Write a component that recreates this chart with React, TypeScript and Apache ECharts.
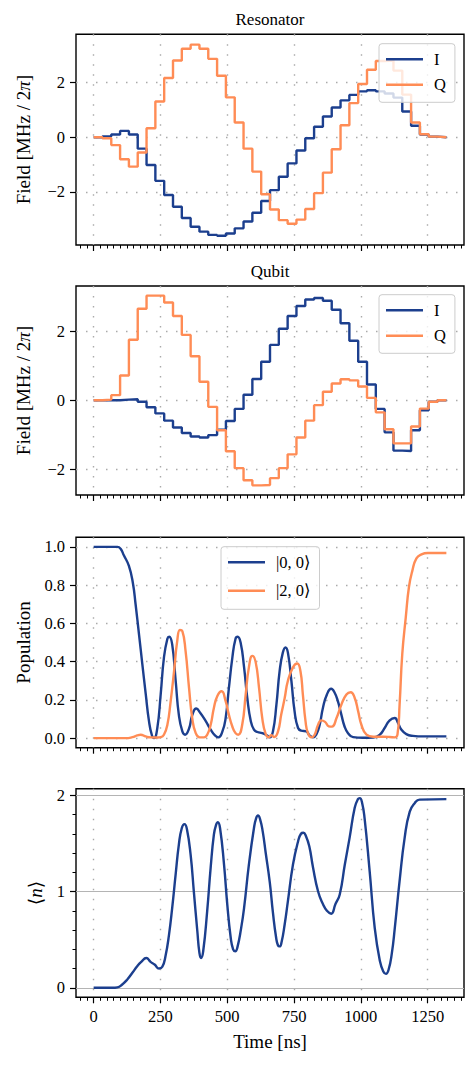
import React, { useEffect, useRef } from "react";
import * as echarts from "echarts";

// ---------- data ----------
const stepTimes = [
  0, 33, 66, 99, 132, 165, 198, 231, 264, 297, 330, 363, 396, 429, 462, 495, 528, 561, 594, 627,
  660, 693, 726, 759, 792, 825, 858, 891, 924, 957, 990, 1023, 1056, 1089, 1122, 1155, 1188, 1221,
  1254, 1287, 1320,
];

const resonatorI = [
  0, 0.03, 0.1, 0.23, 0.1, -0.42, -1.02, -1.6, -2.12, -2.55, -2.96, -3.28, -3.46, -3.58, -3.61,
  -3.53, -3.34, -3.09, -2.77, -2.34, -1.94, -1.45, -0.96, -0.49, -0.04, 0.38, 0.76, 1.09, 1.35,
  1.55, 1.68, 1.72, 1.68, 1.6, 1.45, 0.94, 0.42, 0.1, 0.02, 0,
];
const resonatorQ = [
  0, -0.04, -0.29, -0.81, -1.08, -0.56, 0.33, 1.31, 2.17, 2.81, 3.24, 3.39, 3.24, 2.87, 2.25, 1.46,
  0.54, -0.42, -1.26, -2.09, -2.65, -3.04, -3.17, -3.02, -2.63, -2.05, -1.3, -0.44, 0.44, 1.25,
  1.95, 2.47, 2.79, 2.81, 2.44, 1.56, 0.54, 0.11, 0.02, 0,
];
const qubitI = [
  0, 0, 0, 0.02, 0.03, -0.04, -0.2, -0.38, -0.59, -0.79, -0.95, -1.05, -1.08, -1.01, -0.85, -0.6,
  -0.25, 0.16, 0.62, 1.12, 1.61, 2.08, 2.45, 2.74, 2.93, 2.97, 2.89, 2.63, 2.24, 1.73, 1.12, 0.46,
  -0.25, -0.93, -1.46, -1.47, -0.87, -0.29, -0.04, 0,
];
const qubitQ = [
  0, 0.02, 0.15, 0.72, 1.76, 2.66, 3.04, 3.04, 2.84, 2.45, 1.9, 1.28, 0.54, -0.19, -0.87, -1.48,
  -1.97, -2.32, -2.47, -2.46, -2.26, -1.97, -1.57, -1.08, -0.59, -0.14, 0.25, 0.49, 0.61, 0.58,
  0.4, 0.07, -0.35, -0.84, -1.25, -1.25, -0.76, -0.24, -0.04, 0,
];

const pop00: number[][] = [
  [0, 1], [60, 1], [89, 1.0], [101, 0.99], [113, 0.956], [132, 0.9], [147, 0.81], [157, 0.7],
  [170, 0.54], [182, 0.39], [195, 0.23], [207, 0.09], [218, 0.015], [226, 0.0], [238, 0.05],
  [251, 0.23], [263, 0.42], [276, 0.52], [283, 0.53], [294, 0.49], [307, 0.3], [319, 0.12],
  [332, 0.035], [342, 0.018], [357, 0.05], [369, 0.12], [384, 0.155], [400, 0.13], [419, 0.09],
  [438, 0.044], [454, 0.014], [467, 0.004], [482, 0.035], [494, 0.105], [506, 0.26], [519, 0.42],
  [531, 0.52], [539, 0.53], [550, 0.5], [563, 0.37], [575, 0.21], [588, 0.09], [600, 0.044],
  [613, 0.032], [631, 0.026], [648, 0.015], [659, 0.004], [671, 0.035], [684, 0.175], [696, 0.35],
  [708, 0.447], [718, 0.474], [727, 0.447], [740, 0.3], [752, 0.14], [765, 0.053], [777, 0.039],
  [796, 0.035], [808, 0.014], [821, 0.004], [833, 0.018], [846, 0.07], [858, 0.158], [873, 0.228],
  [889, 0.258], [902, 0.237], [914, 0.193], [927, 0.123], [939, 0.061], [952, 0.026], [971, 0.005],
  [1008, 0.002], [1046, 0.003], [1071, 0.018], [1089, 0.053], [1108, 0.093], [1127, 0.105],
  [1139, 0.079], [1152, 0.044], [1170, 0.021], [1195, 0.012], [1233, 0.009], [1320, 0.009],
];
const pop20: number[][] = [
  [0, 0], [120, 0], [145, 0.005], [163, 0.014], [176, 0.018], [195, 0.009], [213, 0.004],
  [240, 0.003], [251, 0.005], [263, 0.018], [276, 0.07], [288, 0.19], [301, 0.35], [313, 0.51],
  [323, 0.565], [332, 0.56], [344, 0.456], [357, 0.263], [369, 0.105], [382, 0.026], [397, 0.004],
  [413, 0.004], [425, 0.018], [438, 0.07], [450, 0.158], [463, 0.22], [479, 0.245], [494, 0.193],
  [506, 0.123], [519, 0.061], [531, 0.026], [541, 0.018], [556, 0.07], [569, 0.228], [581, 0.37],
  [594, 0.43], [606, 0.4], [619, 0.263], [631, 0.105], [644, 0.021], [656, 0.004], [664, 0.016],
  [676, 0.006], [690, 0.035], [702, 0.123], [715, 0.21], [727, 0.3], [746, 0.37], [762, 0.39],
  [774, 0.35], [783, 0.228], [793, 0.088], [802, 0.026], [815, 0.004], [827, 0.018], [840, 0.07],
  [852, 0.093], [866, 0.085], [880, 0.062], [892, 0.06], [909, 0.105], [927, 0.175], [946, 0.228],
  [962, 0.24], [977, 0.21], [990, 0.14], [1002, 0.07], [1021, 0.018], [1046, 0.007], [1083, 0.007],
  [1108, 0.006], [1127, 0.004], [1137, 0.018], [1145, 0.175], [1155, 0.44], [1168, 0.63],
  [1180, 0.79], [1193, 0.877], [1208, 0.94], [1227, 0.961], [1251, 0.968], [1320, 0.968],
];
const photonN: number[][] = [
  [0, 0], [70, 0], [89, 0.005], [107, 0.035], [126, 0.087], [145, 0.156], [163, 0.225],
  [178, 0.27], [197, 0.31], [213, 0.27], [228, 0.242], [245, 0.2], [257, 0.218], [269, 0.33],
  [282, 0.55], [294, 0.83], [307, 1.18], [319, 1.49], [330, 1.66], [340, 1.7], [349, 1.65],
  [363, 1.38], [375, 1.0], [388, 0.59], [396, 0.36], [402, 0.31], [410, 0.38], [425, 0.8],
  [438, 1.25], [450, 1.59], [458, 1.69], [465, 1.72], [473, 1.66], [488, 1.28], [500, 0.87],
  [513, 0.52], [522, 0.4], [530, 0.38], [538, 0.42], [552, 0.62], [563, 0.83], [581, 1.28],
  [600, 1.66], [608, 1.76], [615, 1.79], [623, 1.75], [633, 1.62], [644, 1.4], [659, 1.1],
  [671, 0.78], [683, 0.52], [690, 0.44], [696, 0.43], [703, 0.47], [715, 0.66], [727, 0.9],
  [746, 1.28], [765, 1.52], [776, 1.6], [785, 1.61], [794, 1.58], [807, 1.47], [821, 1.25],
  [840, 1.0], [858, 0.87], [873, 0.8], [889, 0.77], [905, 0.87], [921, 0.97], [940, 1.28],
  [958, 1.56], [977, 1.87], [989, 1.96], [996, 1.97], [1004, 1.93], [1014, 1.76], [1033, 1.21],
  [1052, 0.62], [1071, 0.28], [1084, 0.17], [1094, 0.145], [1104, 0.19], [1116, 0.36],
  [1127, 0.62], [1145, 1.11], [1164, 1.56], [1183, 1.83], [1202, 1.92], [1220, 1.955],
  [1320, 1.96],
];

const timeTicks = [0, 250, 500, 750, 1000, 1250];
const timeMinorTicks = [
  -50, -25, 25, 50, 75, 100, 125, 150, 175, 200, 225, 275, 300, 325, 350, 375, 400, 425, 450, 475,
  525, 550, 575, 600, 625, 650, 675, 700, 725, 775, 800, 825, 850, 875, 900, 925, 950, 975, 1025,
  1050, 1075, 1100, 1125, 1150, 1175, 1200, 1225, 1275, 1300, 1325, 1350, 1375,
];
const fieldTicks = [-2, 0, 2];
const popTicks = [0, 0.2, 0.4, 0.6, 0.8, 1.0];
const nTicks = [0, 1, 2];
const nMinorTicks = [0.2, 0.4, 0.6, 0.8, 1.2, 1.4, 1.6, 1.8];

const panelTitles = ["Resonator", "Qubit"];
const ketLabels = ["|0, 0\u27E9", "|2, 0\u27E9"];

// ---------- style ----------
const BLUE = "#1c3f8e";
const ORANGE = "#ff8c55";
const FONT = "'Liberation Serif', 'DejaVu Serif', serif";
const GRIDC = "#aaaaaa";
const X_MIN = -66;
const X_MAX = 1386;
const LW = 2.4;

const grids = [
  { top: 34.3, height: 210.7 },
  { top: 286, height: 209 },
  { top: 537.3, height: 210.4 },
  { top: 788.7, height: 208.6 },
];

function fmtMinus(v: number) {
  return v < 0 ? "\u2212" + Math.abs(v) : String(v);
}

function buildOption() {
  const xAxis: any[] = [];
  grids.forEach((_, g) => {
    xAxis.push({
      type: "value",
      gridIndex: g,
      min: X_MIN,
      max: X_MAX,
      position: "bottom",
      axisLine: { show: false, onZero: false },
      axisTick: { show: true, customValues: timeTicks, length: 6, lineStyle: { color: "#000", width: 1.2 } },
      axisLabel: {
        show: g === 3,
        customValues: timeTicks,
        formatter: (v: number) => String(v),
        margin: 11,
        color: "#000",
        fontSize: 16.5,
        fontFamily: FONT,
      },
      splitLine: { show: true, lineStyle: { color: GRIDC, width: 1.4, type: [1.5, 8.5] } },
      name: g === 3 ? "Time [ns]" : "",
      nameLocation: "middle",
      nameGap: 34.5,
      nameTextStyle: { color: "#000", fontSize: 19, fontFamily: FONT },
    });
    xAxis.push({
      type: "value",
      gridIndex: g,
      min: X_MIN,
      max: X_MAX,
      position: "bottom",
      axisLine: { show: false, onZero: false },
      axisTick: { show: true, customValues: timeMinorTicks, length: 3.5, lineStyle: { color: "#000", width: 1 } },
      axisLabel: { show: false },
      splitLine: { show: false },
    });
  });

  const yBase = (g: number, min: number, max: number, ticks: number[], fmt: (v: number) => string, name: string, nameGap: number, solid: boolean) => ({
    type: "value",
    gridIndex: g,
    min,
    max,
    position: "left",
    axisLine: { show: false, onZero: false },
    axisTick: { show: true, customValues: ticks, length: 6, lineStyle: { color: "#000", width: 1.2 } },
    axisLabel: {
      customValues: ticks,
      formatter: fmt,
      margin: 11,
      color: "#000",
      fontSize: 16.5,
      fontFamily: FONT,
    },
    splitLine: {
      show: true,
      lineStyle: solid ? { color: "#b4b4b4", width: 1.2, type: "solid" } : { color: GRIDC, width: 1.4, type: [1.5, 8.5] },
    },
    name,
    nameLocation: "middle",
    nameGap,
    nameRotate: 90,
    nameTextStyle: {
      color: "#000",
      fontSize: 19,
      fontFamily: FONT,
      rich: { i: { fontStyle: "italic", fontSize: 19, fontFamily: FONT, color: "#000" } },
    },
  });

  const yAxis: any[] = [
    yBase(0, -3.95, 3.77, fieldTicks, fmtMinus, "Field [MHz / 2{i|\u03C0}]", 42.6, false),
    yBase(1, -2.75, 3.32, fieldTicks, fmtMinus, "Field [MHz / 2{i|\u03C0}]", 42.6, false),
    yBase(2, -0.05, 1.05, popTicks, (v: number) => v.toFixed(1), "Population", 41.4, false),
    yBase(3, -0.0985, 2.068, nTicks, (v: number) => String(v), "\u27E8{i|n}\u27E9", 31, true),
    {
      type: "value",
      gridIndex: 3,
      min: -0.0985,
      max: 2.068,
      position: "left",
      axisLine: { show: false, onZero: false },
      axisTick: { show: true, customValues: nMinorTicks, length: 3.5, lineStyle: { color: "#000", width: 1 } },
      axisLabel: { show: false },
      splitLine: { show: false },
    },
  ];

  const stepData = (vals: number[]) =>
    stepTimes.map((t, i) => [t, i < vals.length ? vals[i] : vals[vals.length - 1]]);

  const stepSeries = (name: string, vals: number[], color: string, g: number) => ({
    type: "line",
    name,
    xAxisIndex: g * 2,
    yAxisIndex: g,
    step: "end",
    symbol: "none",
    lineStyle: { color, width: LW },
    itemStyle: { color },
    data: stepData(vals),
    z: 3,
  });

  const curveSeries = (name: string, data: number[][], color: string, g: number) => ({
    type: "line",
    name,
    xAxisIndex: g * 2,
    yAxisIndex: g,
    symbol: "none",
    smooth: 0.5,
    lineStyle: { color, width: LW, join: "round" },
    itemStyle: { color },
    data,
    z: 3,
  });

  const legendBase = {
    orient: "vertical",
    icon: "rect",
    itemWidth: 37,
    itemHeight: 2.4,
    backgroundColor: "rgba(255,255,255,0.8)",
    borderColor: "#cccccc",
    borderWidth: 1,
    borderRadius: 3,
    textStyle: { color: "#000", fontSize: 16.5, fontFamily: FONT, padding: [0, 0, 0, 6], lineHeight: 16 },
    z: 10,
  };

  return {
    animation: false,
    backgroundColor: "#ffffff",
    textStyle: { fontFamily: FONT },
    grid: grids.map((gr) => ({
      left: 76,
      width: 388,
      top: gr.top,
      height: gr.height,
      show: true,
      borderColor: "#000",
      borderWidth: 1.4,
      backgroundColor: "transparent",
      outerBoundsMode: "none",
      containLabel: false,
    })),
    xAxis,
    yAxis,
    legend: [
      { ...legendBase, data: ["I", "Q"], left: 379, top: 43.7, itemGap: 8.6, padding: [7, 9, 9, 7] },
      { ...legendBase, data: ["I", "Q"], left: 379, top: 294.7, itemGap: 8.6, padding: [7, 9, 9, 7] },
      { ...legendBase, data: ketLabels, left: 221, top: 546.7, itemGap: 11.6, padding: [7, 9, 10, 7] },
    ],
    graphic: [
      {
        type: "text",
        x: 270,
        y: 19.3,
        style: { text: panelTitles[0], font: `17px ${FONT}`, fill: "#000", align: "center", verticalAlign: "middle", textAlign: "center", textVerticalAlign: "middle" },
      },
      {
        type: "text",
        x: 270,
        y: 271,
        style: { text: panelTitles[1], font: `17px ${FONT}`, fill: "#000", align: "center", verticalAlign: "middle", textAlign: "center", textVerticalAlign: "middle" },
      },
    ],
    series: [
      stepSeries("I", resonatorI, BLUE, 0),
      stepSeries("Q", resonatorQ, ORANGE, 0),
      stepSeries("I", qubitI, BLUE, 1),
      stepSeries("Q", qubitQ, ORANGE, 1),
      curveSeries(ketLabels[0], pop00, BLUE, 2),
      curveSeries(ketLabels[1], pop20, ORANGE, 2),
      curveSeries("n", photonN, BLUE, 3),
    ],
  };
}

export default function App() {
  const ref = useRef<HTMLDivElement>(null);
  useEffect(() => {
    if (!ref.current) return;
    const chart = echarts.init(ref.current, undefined, { renderer: "svg" });
    chart.setOption(buildOption() as any);
    return () => chart.dispose();
  }, []);
  return (
    <div
      ref={ref}
      style={{ position: "fixed", left: 0, top: 0, width: 476, height: 1065, background: "#fff" }}
    />
  );
}
